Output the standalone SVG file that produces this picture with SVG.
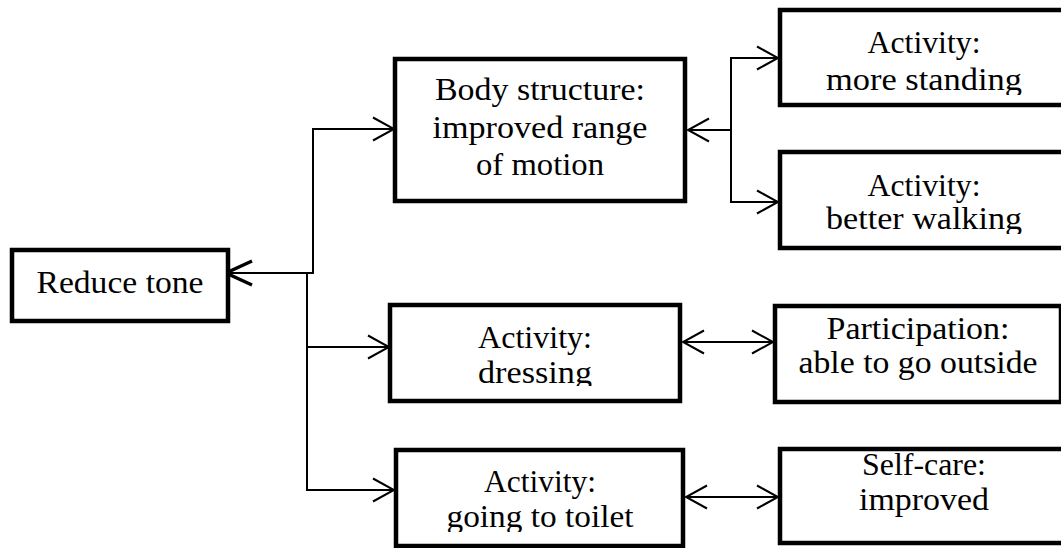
<svg xmlns="http://www.w3.org/2000/svg" width="1061" height="548" viewBox="0 0 1061 548">
  <style>
    .box { fill: #ffffff; stroke: #000000; stroke-width: 4.5; }
    .lbl { font-family: "Liberation Serif", "Times New Roman", serif; font-size: 31px; fill: #000000; text-anchor: middle; }
    .wire { fill: none; stroke: #000000; stroke-width: 2; }
  </style>
  <defs>
    <marker id="open" viewBox="0 0 24 26" refX="22" refY="13" markerWidth="24" markerHeight="26" markerUnits="userSpaceOnUse" orient="auto-start-reverse">
      <path d="M1,1.5 L22,13 L1,24.5" fill="none" stroke="#000000" stroke-width="2"/>
    </marker>
    <marker id="openBold" viewBox="0 0 30 28" refX="27" refY="14" markerWidth="30" markerHeight="28" markerUnits="userSpaceOnUse" orient="auto-start-reverse">
      <path d="M1,2 L27,14 L1,26" fill="none" stroke="#000000" stroke-width="3.5"/>
    </marker>
    <clipPath id="clipStanding"><rect x="780" y="10" width="290" height="85"/></clipPath>
    <clipPath id="clipWalking"><rect x="780" y="152" width="290" height="82"/></clipPath>
    <clipPath id="clipDressing"><rect x="390" y="305" width="290" height="81"/></clipPath>
    <clipPath id="clipOutside"><rect x="775" y="306" width="286" height="82"/></clipPath>
    <clipPath id="clipToilet"><rect x="396" y="450" width="287" height="82"/></clipPath>
    <clipPath id="clipSelfcare"><rect x="780" y="449" width="290" height="70"/></clipPath>
  </defs>

  <rect width="1061" height="548" fill="#ffffff"/>

  <!-- connectors -->
  <g id="connectors">
    <!-- trunk back into "Reduce tone" -->
    <path class="wire" d="M313,273 L226,273" marker-end="url(#openBold)"/>
    <path class="wire" d="M313,274 L313,129 L394,129" marker-end="url(#open)"/>
    <path class="wire" d="M307,273 L307,490 L394,490" marker-end="url(#open)"/>
    <path class="wire" d="M307,347 L389,347" marker-end="url(#open)"/>
    <!-- body structure fan-out -->
    <path class="wire" d="M731,130 L688,130" marker-end="url(#open)"/>
    <path class="wire" d="M778,58 L731,58 L731,202 L778,202" marker-start="url(#open)" marker-end="url(#open)"/>
    <!-- two-way links -->
    <path class="wire" d="M683,342 L773,342" marker-start="url(#open)" marker-end="url(#open)"/>
    <path class="wire" d="M686,497 L778,497" marker-start="url(#open)" marker-end="url(#open)"/>
  </g>

  <g id="reduce-tone">
    <rect class="box" x="12" y="250" width="216" height="71"/>
    <text class="lbl" x="120" y="293" textLength="167" lengthAdjust="spacingAndGlyphs">Reduce tone</text>
  </g>

  <g id="body-structure">
    <rect class="box" x="395" y="59" width="290" height="142"/>
    <text class="lbl" x="540" y="100" textLength="210" lengthAdjust="spacingAndGlyphs">Body structure:</text>
    <text class="lbl" x="540" y="138" textLength="215" lengthAdjust="spacingAndGlyphs">improved range</text>
    <text class="lbl" x="540" y="175" textLength="128" lengthAdjust="spacingAndGlyphs">of motion</text>
  </g>

  <g id="more-standing">
    <rect class="box" x="780" y="10" width="290" height="95"/>
    <g clip-path="url(#clipStanding)">
      <text class="lbl" x="924" y="53" textLength="113" lengthAdjust="spacingAndGlyphs">Activity:</text>
      <text class="lbl" x="924" y="90" textLength="196" lengthAdjust="spacingAndGlyphs">more standing</text>
    </g>
  </g>

  <g id="better-walking">
    <rect class="box" x="780" y="152" width="290" height="96"/>
    <g clip-path="url(#clipWalking)">
      <text class="lbl" x="924" y="196" textLength="113" lengthAdjust="spacingAndGlyphs">Activity:</text>
      <text class="lbl" x="924" y="229" textLength="196" lengthAdjust="spacingAndGlyphs">better walking</text>
    </g>
  </g>

  <g id="dressing">
    <rect class="box" x="390" y="305" width="290" height="96"/>
    <g clip-path="url(#clipDressing)">
      <text class="lbl" x="535" y="348" textLength="114" lengthAdjust="spacingAndGlyphs">Activity:</text>
      <text class="lbl" x="535" y="383" textLength="114" lengthAdjust="spacingAndGlyphs">dressing</text>
    </g>
  </g>

  <g id="go-outside">
    <rect class="box" x="775" y="306" width="286" height="96"/>
    <g clip-path="url(#clipOutside)">
      <text class="lbl" x="918" y="339" textLength="183" lengthAdjust="spacingAndGlyphs">Participation:</text>
      <text class="lbl" x="918" y="373" textLength="239" lengthAdjust="spacingAndGlyphs">able to go outside</text>
    </g>
  </g>

  <g id="going-to-toilet">
    <rect class="box" x="396" y="450" width="287" height="96"/>
    <g clip-path="url(#clipToilet)">
      <text class="lbl" x="540" y="492" textLength="112" lengthAdjust="spacingAndGlyphs">Activity:</text>
      <text class="lbl" x="540" y="527" textLength="187" lengthAdjust="spacingAndGlyphs">going to toilet</text>
    </g>
  </g>

  <g id="self-care">
    <rect class="box" x="780" y="449" width="290" height="94"/>
    <g clip-path="url(#clipSelfcare)">
      <text class="lbl" x="924" y="475" textLength="124" lengthAdjust="spacingAndGlyphs">Self-care:</text>
      <text class="lbl" x="924" y="510" textLength="130" lengthAdjust="spacingAndGlyphs">improved</text>
    </g>
  </g>
</svg>
